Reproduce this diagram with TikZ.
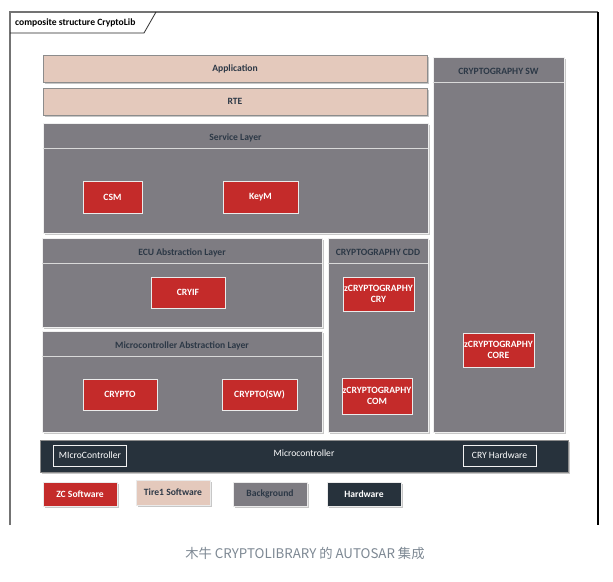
\documentclass[tikz,border=0pt]{standalone}
\usepackage{fontspec}
\setmainfont{Carlito}
\newfontfamily\cjkfont{Noto Sans CJK SC}
\usetikzlibrary{shadows}
\definecolor{tierone}{HTML}{E4C9BC}
\definecolor{backgr}{HTML}{7E7C82}
\definecolor{zcred}{HTML}{C42B2A}
\definecolor{hwdark}{HTML}{27323C}
\definecolor{headtxt}{HTML}{2C3846}
\definecolor{captxt}{HTML}{7D8893}
\tikzset{
  box/.style={inner sep=0pt, font=\fontsize{9.6}{11.5}\selectfont\bfseries},
  shadebox/.style={drop shadow={shadow xshift=2pt, shadow yshift=-2pt, fill=black!22, opacity=1}},
  tier/.style={box, shadebox, fill=tierone, draw=black!45, text=headtxt},
  layer/.style={box, shadebox, fill=backgr, draw=black!6, line width=0.8pt},
  head/.style={box, text=headtxt},
  sepline/.style={draw=black!15, line width=0.6pt},
  zc/.style={box, fill=zcred, draw=black!8, line width=0.7pt, text=white, align=center},
  hw/.style={box, fill=hwdark, draw=black!5, line width=0.8pt, text=white, font=\fontsize{9.6}{11.5}\selectfont},
}
\begin{document}
\begin{tikzpicture}[x=1pt,y=-1pt]
\useasboundingbox (0,0) rectangle (613,581);
\fill[white] (0,0) rectangle (613,581);

% frame and tab
\draw[black!55, line width=1.2pt] (10,525) -- (10,12) -- (598,12);
\draw[black, line width=2pt] (598,12) -- (598,525);
\draw[black!85, line width=0.8pt] (10,33) -- (144,33) -- (156,12);
\node[box, anchor=west] (tab) at (15,22.5) {composite structure CryptoLib};

% tier1 layers
\node[tier, minimum width=384pt, minimum height=27pt] (app) at (235,68.5) {\raisebox{-1.5pt}{Application}};
\node[tier, minimum width=384pt, minimum height=27pt] (rte) at (235,101.5) {\raisebox{-1.5pt}{RTE}};

% background layers
\node[layer, minimum width=385pt, minimum height=110pt] (svc) at (235.5,178) {};
\node[layer, minimum width=280pt, minimum height=89pt] (ecu) at (182,282.5) {};
\node[layer, minimum width=280pt, minimum height=101pt] (mcal) at (182,381.5) {};
\node[layer, minimum width=100pt, minimum height=194pt] (cdd) at (378,335) {};
\node[layer, minimum width=131pt, minimum height=375pt] (crysw) at (498.5,244.5) {};
\foreach \n/\t in {svc/Service Layer, ecu/ECU Abstraction Layer,
  mcal/Microcontroller Abstraction Layer, cdd/CRYPTOGRAPHY CDD, crysw/CRYPTOGRAPHY SW}{
  \node[head] (\n-head) at ([yshift=-15pt]\n.north) {\t};
  \draw[sepline] ([yshift=-26pt]\n.north west) -- ([yshift=-26pt]\n.north east);
}

% ZC software modules
\node[zc, minimum width=59pt, minimum height=32pt] (csm) at (112.5,197) {CSM};
\node[zc, minimum width=75pt, minimum height=32pt] (keym) at (260.5,197) {KeyM};
\node[zc, minimum width=74pt, minimum height=31pt] (cryif) at (188,292.5) {CRYIF};
\node[zc, minimum width=74pt, minimum height=31pt] (crypto) at (120,394.5) {CRYPTO};
\node[zc, minimum width=75pt, minimum height=31pt] (cryptosw) at (259.5,394.5) {CRYPTO(SW)};
\node[zc, minimum width=71pt, minimum height=34pt] (zcry) at (378.5,294) {zCRYPTOGRAPHY\\CRY};
\node[zc, minimum width=70pt, minimum height=36pt] (zcom) at (377,396) {zCRYPTOGRAPHY\\COM};
\node[zc, minimum width=71pt, minimum height=34pt] (zcore) at (498.5,350) {zCRYPTOGRAPHY\\CORE};

% hardware
\node[hw, shadebox, draw=black!45, minimum width=528pt, minimum height=32pt] (mcu) at (304,456) {\raisebox{5pt}{Microcontroller}};
\node[hw, minimum width=73pt, minimum height=21pt] (mcubox) at (90,455.5) {MIcroController};
\node[hw, minimum width=73pt, minimum height=21pt] (cryhw) at (499.5,455.5) {CRY Hardware};

% legend
\node[box, shadebox, fill=zcred, draw=black!8, text=white, minimum width=74pt, minimum height=24pt] (lgzc) at (80,494) {\raisebox{-4pt}{ZC Software}};
\node[tier, draw=black!8, minimum width=74pt, minimum height=25pt] (lgtier) at (173,492.5) {\raisebox{-4.5pt}{Tire1 Software}};
\node[box, shadebox, fill=backgr, draw=black!8, text=headtxt, minimum width=74pt, minimum height=24pt] (lgback) at (270,494) {\raisebox{-4pt}{Background}};
\node[box, shadebox, fill=hwdark, draw=black!8, text=white, minimum width=74pt, minimum height=24pt] (lghw) at (364,494) {\raisebox{-4pt}{Hardware}};

% caption
\node[text=captxt, font=\cjkfont\fontsize{13.3}{15}\selectfont] (caption) at (305,553) {木牛 CRYPTOLIBRARY 的 AUTOSAR 集成};
\end{tikzpicture}
\end{document}
